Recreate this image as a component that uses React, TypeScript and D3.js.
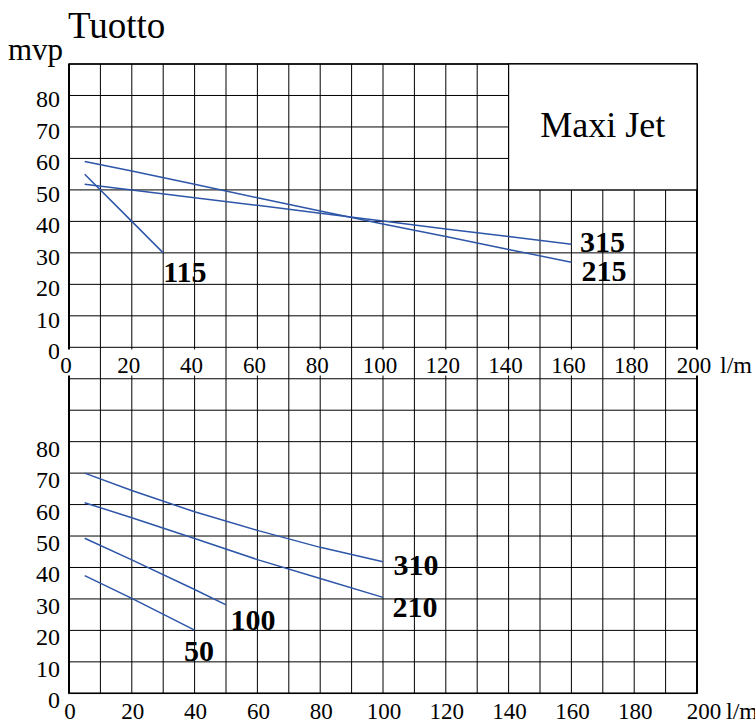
import * as d3 from 'd3';

// flow axis (l/m) and head axis (mvp)
const flowTicks = [0, 20, 40, 60, 80, 100, 120, 140, 160, 180, 200];
const headTicks = [0, 10, 20, 30, 40, 50, 60, 70, 80];

// upper panel curves: [flow, head]
const pump115: [number, number][] = [[5, 55], [20, 40], [30, 30]];
const pump215: [number, number][] = [
  [5, 59], [20, 56], [40, 51.8], [60, 47.5], [80, 43.3], [100, 39.2], [120, 35.2], [140, 31.1], [160, 27],
];
const pump315: [number, number][] = [
  [5, 51.8], [20, 50], [40, 47.5], [60, 45.1], [80, 42.6], [100, 40.1], [120, 37.6], [140, 35.2], [160, 32.7],
];

// lower panel curves
const pump50: [number, number][] = [[5, 37.4], [20, 30.2], [40, 20.1]];
const pump100: [number, number][] = [[5, 49.3], [20, 42.4], [40, 33], [50, 28.1]];
const pump210: [number, number][] = [[5, 60.6], [20, 55.8], [40, 49.2], [60, 42.5], [80, 36.5], [100, 30.5]];
const pump310: [number, number][] = [[5, 70], [20, 64.5], [40, 57.7], [60, 51.8], [80, 46.4], [100, 41.8]];

const topSeries = [
  { name: '115', data: pump115 },
  { name: '215', data: pump215 },
  { name: '315', data: pump315 },
];
const bottomSeries = [
  { name: '50', data: pump50 },
  { name: '100', data: pump100 },
  { name: '210', data: pump210 },
  { name: '310', data: pump310 },
];

// label nudges relative to each curve's last point (px)
const labelOffset: Record<string, [number, number]> = {
  '115': [0, 29],
  '215': [10, 19],
  '315': [8.5, 8],
  '50': [-10.5, 30.5],
  '100': [4.5, 25],
  '210': [9.5, 19.5],
  '310': [10.5, 13],
};

const W = 755;
const H = 722;
const serif = "'Liberation Serif', 'Times New Roman', serif";
const blue = '#2d55a8';

export default function App() {
  const x = d3.scaleLinear().domain([0, 200]).range([69, 697]);
  const yTop = d3.scaleLinear().domain([0, 90]).range([347.3, 64]);
  const yBot = d3.scaleLinear().domain([0, 110]).range([693.3, 347.3]);

  const lineTop = d3.line<[number, number]>().x(d => x(d[0])).y(d => yTop(d[1]));
  const lineBot = d3.line<[number, number]>().x(d => x(d[0])).y(d => yBot(d[1]));

  const vGrid = d3.range(0, 201, 10);
  const hTop = d3.range(10, 91, 10);
  const hBot = d3.range(0, 111, 10);

  const renderLabel = (name: string, pt: [number, number], yS: d3.ScaleLinear<number, number>) => {
    const [dx, dy] = labelOffset[name];
    return (
      <text key={'l' + name} x={x(pt[0]) + dx} y={yS(pt[1]) + dy}
        fontFamily={serif} fontSize={30} fontWeight="bold" fill="#000">
        {name}
      </text>
    );
  };

  return (
    <svg width={W} height={H} style={{ position: 'absolute', left: 0, top: 0, background: '#fff' }}>
      <rect width={W} height={H} fill="#fff" />

      {/* grid */}
      {vGrid.map(v => (
        <line key={'v' + v} x1={x(v)} x2={x(v)} y1={yTop(90)} y2={yBot(0)} stroke="#000" strokeWidth={1} />
      ))}
      {hTop.map(v => (
        <line key={'ht' + v} x1={x(0)} x2={x(200)} y1={yTop(v)} y2={yTop(v)} stroke="#000" strokeWidth={1} />
      ))}
      {hBot.map(v => (
        <line key={'hb' + v} x1={x(0)} x2={x(200)} y1={yBot(v)} y2={yBot(v)} stroke="#000" strokeWidth={1} />
      ))}

      {/* frame */}
      <rect x={x(0)} y={yTop(90)} width={x(200) - x(0)} height={yBot(0) - yTop(90)}
        fill="none" stroke="#000" strokeWidth={1.5} />
      <line x1={x(0)} x2={x(0)} y1={yTop(90)} y2={yBot(0)} stroke="#000" strokeWidth={2} />
      <line x1={x(200)} x2={x(200)} y1={yTop(90)} y2={yBot(0)} stroke="#000" strokeWidth={2} />

      {/* Maxi Jet box */}
      <rect x={x(140)} y={yTop(90)} width={x(200) - x(140)} height={yTop(50) - yTop(90)}
        fill="#fff" stroke="#000" strokeWidth={1.2} />
      <text x={(x(140) + x(200)) / 2} y={136.5} textAnchor="middle" fontFamily={serif} fontSize={36} fill="#000">
        Maxi Jet
      </text>

      {/* titles */}
      <text x={68} y={38} fontFamily={serif} fontSize={37} fill="#000">Tuotto</text>
      <text x={8} y={60} fontFamily={serif} fontSize={31} fill="#000">mvp</text>

      {/* y tick labels */}
      {headTicks.map(v => (
        <text key={'yt' + v} x={60} y={yTop(v) + 12} textAnchor="end" fontFamily={serif} fontSize={24} fill="#000">{v}</text>
      ))}
      {headTicks.map(v => (
        <text key={'yb' + v} x={60} y={yBot(v) + 15} textAnchor="end" fontFamily={serif} fontSize={24} fill="#000">{v}</text>
      ))}

      {/* x tick labels, upper panel (drawn on white patches over the grid) */}
      {flowTicks.map(v => {
        const s = String(v);
        const w = s.length * 11.5 + 2;
        const cx = x(v) - 3;
        return (
          <g key={'xt' + v}>
            <rect x={cx - w / 2} y={349.5} width={w} height={26} fill="#fff" />
            <text x={cx} y={373} textAnchor="middle" fontFamily={serif} fontSize={23} fill="#000">{s}</text>
          </g>
        );
      })}
      <text x={720} y={373} fontFamily={serif} fontSize={24} fill="#000">l/m</text>

      {/* x tick labels, lower panel */}
      {flowTicks.map(v => (
        <text key={'xb' + v} x={x(v) + (v === 200 ? 7 : 1)} y={719} textAnchor="middle"
          fontFamily={serif} fontSize={23} fill="#000">{v}</text>
      ))}
      <text x={726} y={719} fontFamily={serif} fontSize={24} fill="#000">l/m</text>

      {/* curves */}
      {topSeries.map(s => (
        <path key={'pt' + s.name} d={lineTop(s.data) || ''} fill="none" stroke={blue} strokeWidth={1.5} />
      ))}
      {bottomSeries.map(s => (
        <path key={'pb' + s.name} d={lineBot(s.data) || ''} fill="none" stroke={blue} strokeWidth={1.5} />
      ))}

      {topSeries.map(s => renderLabel(s.name, s.data[s.data.length - 1], yTop))}
      {bottomSeries.map(s => renderLabel(s.name, s.data[s.data.length - 1], yBot))}
    </svg>
  );
}
